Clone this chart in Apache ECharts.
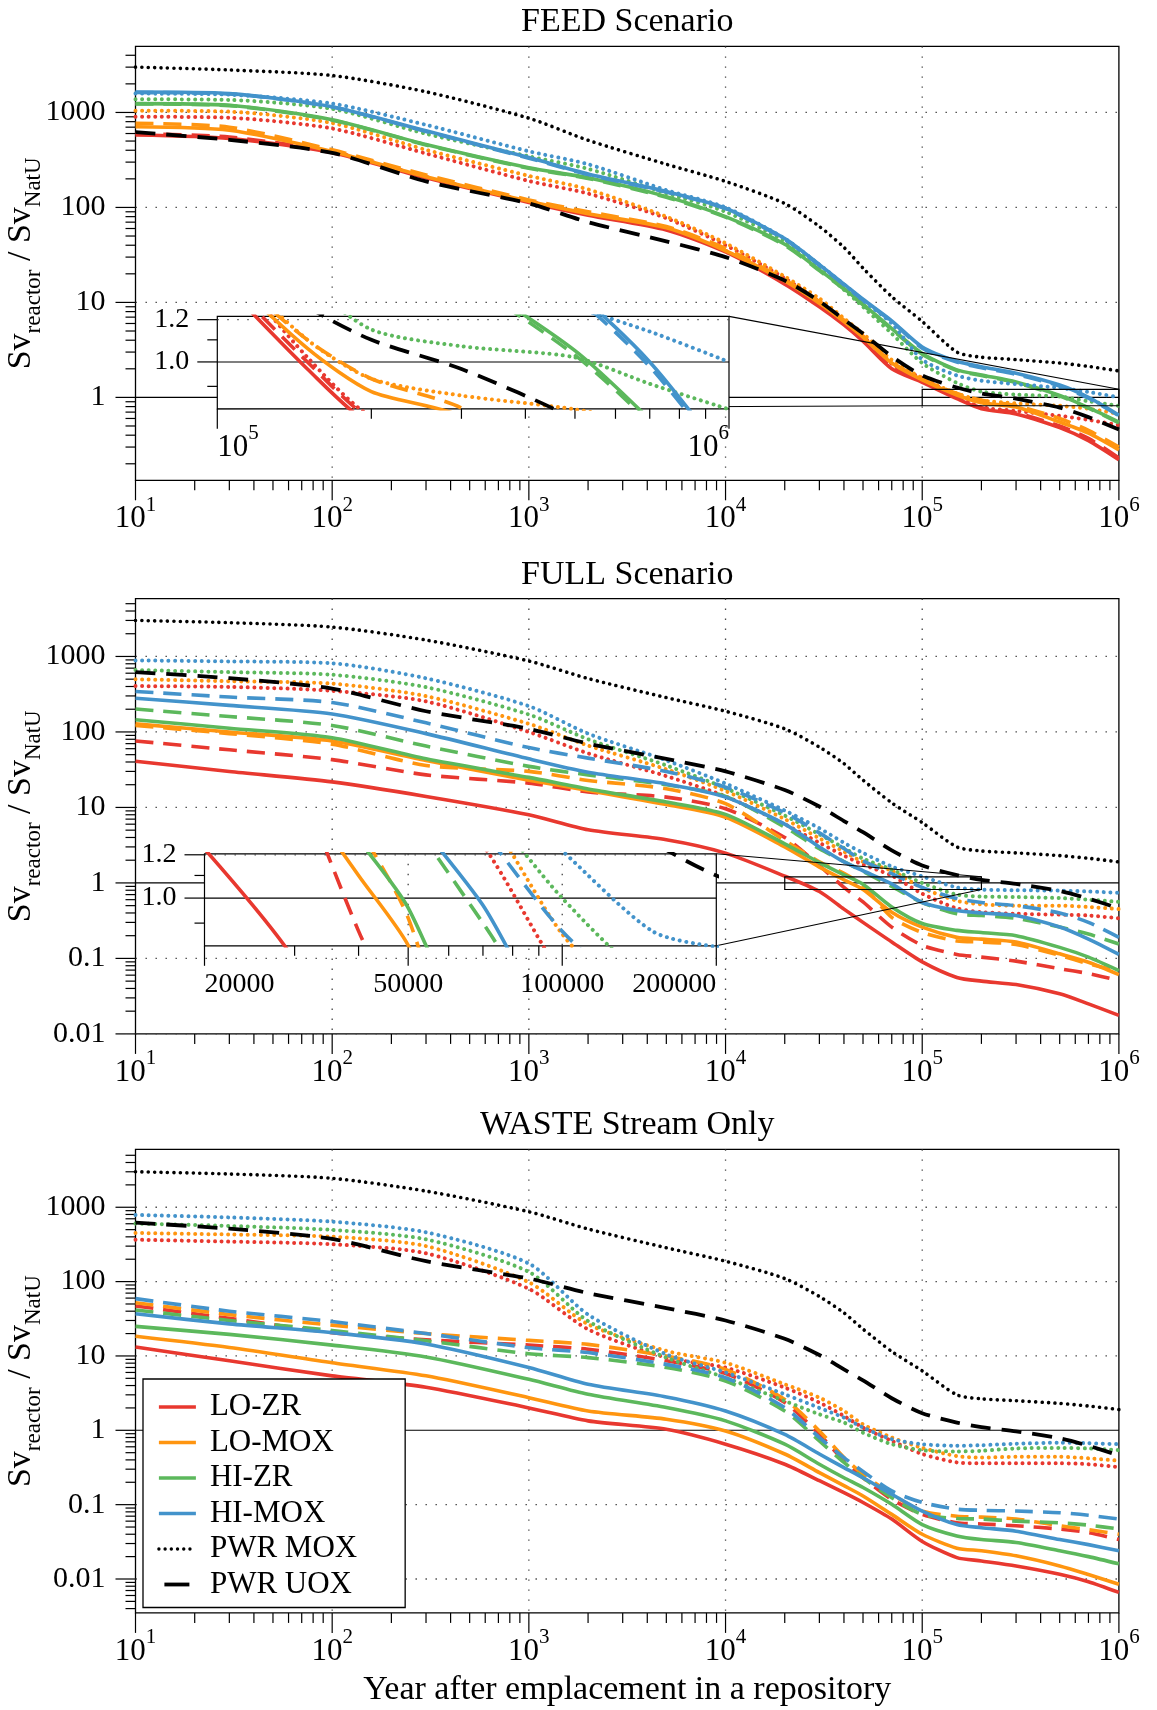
<!DOCTYPE html>
<html>
<head>
<meta charset="utf-8">
<title>Radiotoxicity relative to natural uranium</title>
<script src="https://cdn.jsdelivr.net/npm/echarts@6.0.0/dist/echarts.min.js"></script>
<style>
html, body { margin: 0; padding: 0; background: #ffffff; }
#chart { width: 1157px; height: 1710px; }
</style>
</head>
<body>
<div id="chart"></div>
<script>
// ---------------- data: years after emplacement ----------------
const years = [10, 30, 100, 300, 1000, 2000, 5000, 1e4, 2e4, 3e4, 4e4, 5e4, 7e4, 1e5, 1.5e5, 2e5, 3e5, 5e5, 7e5, 1e6];

// reference light-water reactors (same in every scenario)
const pwrMox = [3000, 2800, 2450, 1650, 870, 510, 285, 188, 110, 63, 38, 23, 11.5, 6.3, 3.0, 2.65, 2.5, 2.3, 2.12, 1.9];
const pwrUox = [620, 515, 375, 188, 110, 70, 44, 30, 17, 10.3, 6.6, 4.7, 2.7, 1.7, 1.27, 1.1, 0.97, 0.78, 0.62, 0.46];

// FEED scenario
const feedLoZr        = [580, 532, 377, 205, 113, 83, 58, 34, 15.6, 9.0, 5.8, 3.9, 2.0, 1.44, 0.97, 0.76, 0.67, 0.48, 0.35, 0.22];
const feedLoZrDashed  = [600, 550, 386, 210, 116, 85, 59, 35, 16.1, 9.3, 6.0, 4.0, 2.08, 1.48, 1.0, 0.78, 0.69, 0.5, 0.37, 0.23];
const feedLoZrDotted  = [902, 880, 678, 370, 190, 140, 77, 40, 18, 10.2, 6.3, 4.4, 2.25, 1.6, 1.02, 0.79, 0.72, 0.64, 0.58, 0.51];
const feedLoMox       = [708, 650, 389, 211, 116, 86, 61, 35, 16.8, 9.8, 6.3, 4.3, 2.3, 1.53, 1.06, 0.88, 0.79, 0.55, 0.42, 0.28];
const feedLoMoxDashed = [771, 700, 404, 220, 120, 90, 63, 37, 17.3, 10.2, 6.5, 4.4, 2.35, 1.55, 1.1, 0.93, 0.82, 0.6, 0.45, 0.3];
const feedLoMoxDotted = [1045, 1020, 773, 404, 215, 155, 80, 42, 18.7, 11, 6.8, 4.7, 2.48, 1.6, 1.1, 0.93, 0.865, 0.815, 0.76, 0.67];
const feedHiZr        = [1240, 1190, 840, 460, 262, 205, 130, 80, 41, 22, 14, 9.6, 5.3, 2.9, 1.95, 1.72, 1.45, 1.05, 0.78, 0.55];
const feedHiZrDashed  = [1230, 1180, 830, 455, 258, 202, 128, 79, 40, 21.6, 13.8, 9.4, 5.2, 2.85, 1.92, 1.7, 1.43, 1.03, 0.77, 0.54];
const feedHiZrDotted  = [1377, 1355, 1090, 596, 345, 255, 141, 90, 44, 23, 13.6, 9.0, 4.7, 2.3, 1.42, 1.15, 1.07, 1.02, 0.91, 0.815];
const feedHiMox       = [1640, 1580, 1150, 640, 335, 225, 147, 98, 47, 25, 15.6, 10.8, 6.4, 3.4, 2.4, 2.1, 1.8, 1.35, 1.0, 0.65];
const feedHiMoxDashed = [1620, 1570, 1140, 630, 330, 222, 145, 97, 46, 24.5, 15.3, 10.6, 6.3, 3.3, 2.35, 2.05, 1.75, 1.32, 0.98, 0.64];
const feedHiMoxDotted = [1580, 1540, 1240, 740, 390, 285, 152, 100, 47, 25, 15.5, 10.5, 6.0, 2.5, 1.7, 1.5, 1.38, 1.26, 1.14, 1.0];

// FULL scenario
const fullLoZr        = [41, 30, 21.8, 14, 8.0, 5.06, 3.73, 2.48, 1.23, 0.77, 0.45, 0.30, 0.165, 0.09, 0.056, 0.050, 0.045, 0.034, 0.025, 0.0176];
const fullLoZrDashed  = [76, 58, 43, 27, 21, 16, 13.7, 9.6, 4.0, 1.7, 0.87, 0.56, 0.26, 0.149, 0.113, 0.104, 0.092, 0.073, 0.063, 0.051];
const fullLoZrDotted  = [405, 395, 351, 254, 100, 52, 26, 14, 6.0, 3.4, 2.3, 1.75, 1.25, 0.72, 0.46, 0.41, 0.39, 0.38, 0.37, 0.34];
const fullLoMox       = [128, 100, 76, 42, 23, 16.8, 10.9, 7.4, 3.0, 1.62, 1.1, 0.82, 0.41, 0.26, 0.19, 0.18, 0.165, 0.115, 0.089, 0.061];
const fullLoMoxDashed = [122, 95, 69, 36, 30, 22.8, 17.7, 11.2, 3.66, 1.9, 1.34, 0.92, 0.35, 0.22, 0.17, 0.165, 0.153, 0.11, 0.085, 0.068];
const fullLoMoxDotted = [498, 470, 437, 298, 128, 66, 32, 16.5, 7.0, 3.9, 2.6, 1.9, 1.45, 0.86, 0.58, 0.52, 0.5, 0.5, 0.48, 0.45];
const fullHiZr        = [145, 112, 84, 44, 25, 17.6, 11.8, 8.1, 3.3, 1.86, 1.28, 0.96, 0.48, 0.29, 0.235, 0.22, 0.2, 0.14, 0.104, 0.069];
const fullHiZrDashed  = [201, 160, 122, 65, 35, 27, 20, 14, 5.5, 2.83, 1.92, 1.42, 0.9, 0.55, 0.39, 0.37, 0.34, 0.26, 0.21, 0.155];
const fullHiZrDotted  = [661, 620, 573, 392, 170, 80, 36, 18, 7.8, 4.4, 2.9, 2.1, 1.5, 1.0, 0.7, 0.66, 0.65, 0.63, 0.6, 0.56];
const fullHiMox       = [279, 225, 173, 95, 44, 29.3, 20.5, 13.7, 6.0, 3.0, 1.9, 1.45, 0.97, 0.55, 0.43, 0.40, 0.37, 0.26, 0.18, 0.113];
const fullHiMoxDashed = [344, 290, 245, 132, 62, 45, 30, 18.5, 8.5, 4.6, 2.85, 1.96, 1.33, 0.87, 0.62, 0.55, 0.5, 0.4, 0.3, 0.19];
const fullHiMoxDotted = [887, 860, 812, 514, 220, 95, 42, 20.7, 9.1, 5.3, 3.4, 2.5, 1.65, 1.22, 0.87, 0.815, 0.8, 0.79, 0.77, 0.74];

// WASTE stream only
const wasteLoZr        = [13.2, 8.6, 5.4, 3.8, 2.0, 1.34, 1.03, 0.65, 0.35, 0.21, 0.145, 0.107, 0.064, 0.032, 0.0194, 0.0175, 0.015, 0.0116, 0.0092, 0.0066];
const wasteLoZrDashed  = [47, 32, 20.6, 16.5, 14, 12.3, 8.6, 5.8, 2.36, 0.88, 0.39, 0.23, 0.118, 0.074, 0.057, 0.055, 0.052, 0.047, 0.042, 0.034];
const wasteLoZrDotted  = [366, 345, 318, 240, 80, 22.8, 9.5, 6.96, 3.75, 2.36, 1.56, 1.09, 0.72, 0.48, 0.37, 0.36, 0.36, 0.36, 0.35, 0.32];
const wasteLoMox       = [18.4, 13, 8.1, 5.4, 2.75, 1.82, 1.41, 0.98, 0.48, 0.27, 0.18, 0.131, 0.074, 0.040, 0.026, 0.024, 0.0205, 0.015, 0.0115, 0.0085];
const wasteLoMoxDashed = [52, 36, 26, 20, 16.2, 14.3, 10, 6.6, 2.6, 0.98, 0.43, 0.256, 0.138, 0.082, 0.07, 0.068, 0.064, 0.052, 0.046, 0.04];
const wasteLoMoxDotted = [451, 430, 402, 300, 98, 26.7, 11.7, 8.1, 4.16, 2.75, 1.82, 1.2, 0.8, 0.58, 0.45, 0.43, 0.44, 0.44, 0.42, 0.39];
const wasteHiZr        = [25, 19.5, 14, 9.7, 4.85, 3.05, 2.02, 1.34, 0.65, 0.35, 0.23, 0.17, 0.101, 0.054, 0.038, 0.034, 0.031, 0.024, 0.02, 0.016];
const wasteHiZrDashed  = [41.5, 30, 22, 16, 10.7, 9.5, 7.0, 4.6, 1.82, 0.72, 0.37, 0.23, 0.124, 0.074, 0.065, 0.064, 0.06, 0.057, 0.053, 0.047];
const wasteHiZrDotted  = [604, 560, 496, 370, 135, 29.5, 9.5, 5.1, 2.48, 1.64, 1.27, 0.93, 0.65, 0.54, 0.52, 0.53, 0.57, 0.58, 0.57, 0.54];
const wasteHiMox       = [36.9, 27, 20.6, 14.5, 7.0, 4.16, 2.81, 1.82, 0.88, 0.48, 0.315, 0.23, 0.138, 0.082, 0.054, 0.049, 0.044, 0.034, 0.029, 0.024];
const wasteHiMoxDashed = [59, 40, 29, 20, 12.9, 11.1, 7.7, 5.1, 2.02, 0.80, 0.43, 0.28, 0.153, 0.107, 0.087, 0.084, 0.082, 0.078, 0.072, 0.064];
const wasteHiMoxDotted = [789, 730, 640, 460, 175, 36, 10.5, 6.0, 3.05, 2.0, 1.48, 1.09, 0.76, 0.65, 0.62, 0.63, 0.66, 0.68, 0.67, 0.65];

// ---------------- ticks ----------------
const xDecades = [10, 100, 1000, 1e4, 1e5, 1e6];
const xExponents = ['1', '2', '3', '4', '5', '6'];
const minorMultipliers = [2, 3, 4, 5, 6, 7, 8, 9];
const insetYTicks = [1.0, 1.2];
const insetYTickLabels = ['1.0', '1.2'];
const insetYMinor = [0.9, 1.1];
const feedInsetXTicks = [1e5, 1e6];
const feedInsetXLabels = [['10', '5'], ['10', '6']];
const fullInsetXTicks = [2e4, 5e4, 1e5, 2e5];
const fullInsetXLabels = ['20000', '50000', '100000', '200000'];
const fullInsetXMinor = [3e4, 4e4, 6e4, 7e4, 8e4, 9e4];

// ---------------- layout & style ----------------
const FONT = "'Liberation Serif', 'DejaVu Serif', serif";
const XR = [10, 1e6];
const mainGrids = [
  { title: 'FEED Scenario', left: 135.5, top: 46.4, width: 983.4, height: 433.9, y: [0.134, 4960], yMajor: [1, 10, 100, 1000] },
  { title: 'FULL Scenario', left: 135.5, top: 598.6, width: 983.4, height: 435.3, y: [0.01, 5840], yMajor: [0.01, 0.1, 1, 10, 100, 1000] },
  { title: 'WASTE Stream Only', left: 135.5, top: 1149.4, width: 983.4, height: 463.5, y: [0.0035, 6000], yMajor: [0.01, 0.1, 1, 10, 100, 1000] }
];
const insetGrids = [
  { left: 217.3, top: 316.4, width: 511.7, height: 92.4, x: [1e5, 1e6], y: [0.817, 1.217], parent: 0,
    links: [['tr', 'tr'], ['bl', 'bl']] },
  { left: 204.5, top: 853.8, width: 511.8, height: 92, x: [2e4, 2e5], y: [0.818, 1.205], parent: 1,
    links: [['tr', 'tr'], ['br', 'br']] }
];

const reactors = [
  { name: 'LO-ZR', color: '#e8382f', sets: [[feedLoZr, feedLoZrDashed, feedLoZrDotted], [fullLoZr, fullLoZrDashed, fullLoZrDotted], [wasteLoZr, wasteLoZrDashed, wasteLoZrDotted]] },
  { name: 'LO-MOX', color: '#ff9510', sets: [[feedLoMox, feedLoMoxDashed, feedLoMoxDotted], [fullLoMox, fullLoMoxDashed, fullLoMoxDotted], [wasteLoMox, wasteLoMoxDashed, wasteLoMoxDotted]] },
  { name: 'HI-ZR', color: '#5cb85c', sets: [[feedHiZr, feedHiZrDashed, feedHiZrDotted], [fullHiZr, fullHiZrDashed, fullHiZrDotted], [wasteHiZr, wasteHiZrDashed, wasteHiZrDotted]] },
  { name: 'HI-MOX', color: '#4393cb', sets: [[feedHiMox, feedHiMoxDashed, feedHiMoxDotted], [fullHiMox, fullHiMoxDashed, fullHiMoxDotted], [wasteHiMox, wasteHiMoxDashed, wasteHiMoxDotted]] }
];
const strokeKinds = [
  { suffix: '', type: 'solid', width: 3.6, cap: 'butt' },
  { suffix: ' (dashed)', type: [18, 10], width: 3.6, cap: 'butt' },
  { suffix: ' (dotted)', type: [0.01, 6.6], width: 4, cap: 'round' }
];
const pwrMoxStroke = { type: [0.01, 6.4], width: 3.6, cap: 'round' };
const pwrUoxStroke = { type: [20, 11], width: 3.8, cap: 'butt' };

const TICK = { stroke: '#000', lineWidth: 1.2 };
const GRIDLINE = { stroke: '#444', lineWidth: 1.3, lineDash: [1.4, 8.6] };
const UNITY = { stroke: '#000', lineWidth: 1.1 };

// ---------------- helpers ----------------
function toPoints(values) { return years.map((x, i) => [x, values[i]]); }

function lineSeries(name, values, color, stroke, axisIndex, z) {
  return {
    type: 'line', name, data: toPoints(values), xAxisIndex: axisIndex, yAxisIndex: axisIndex,
    symbol: 'none', smooth: 0.25, z, silent: true, animation: false, clip: true,
    lineStyle: { color, width: stroke.width, type: stroke.type, cap: stroke.cap, join: 'round' },
    itemStyle: { color }, emphasis: { disabled: true }
  };
}

function seg(x1, y1, x2, y2, style) { return { type: 'line', shape: { x1, y1, x2, y2 }, style }; }

function textEl(x, y, text, size, align, va, rich) {
  const style = { text, font: size + 'px ' + FONT, fill: '#000', align, verticalAlign: va, textAlign: align, textVerticalAlign: va };
  if (rich) style.rich = rich;
  return { type: 'text', x, y, style };
}

const expRich = {
  b: { fontFamily: FONT, fontSize: 31, lineHeight: 31, verticalAlign: 'top', padding: [9, 0, 0, 0], fill: '#000', color: '#000' },
  s: { fontFamily: FONT, fontSize: 21, lineHeight: 21, verticalAlign: 'top', fill: '#000', color: '#000' }
};

// draws one tick (plus optional grid line and label) on the grid owning the axes
function renderDeco(item, cs, api) {
  const p = api.coord(item.at);
  const bottom = cs.y + cs.height, left = cs.x;
  const kids = [];
  if (item.kind === 'x') {
    if (item.grid) kids.push(seg(p[0], cs.y, p[0], bottom, GRIDLINE));
    kids.push(seg(p[0], bottom, p[0], bottom + item.len, TICK));
    if (item.exp) {
      kids.push(textEl(p[0], bottom + 14.5, '{b|' + item.exp[0] + '}{s|' + item.exp[1] + '}', 31, item.align || 'center', 'top', expRich));
    } else if (item.label) {
      kids.push(textEl(p[0], bottom + 39, item.label, item.size || 28, item.align || 'center', 'middle'));
    }
  } else if (item.kind === 'y') {
    if (item.grid) kids.push(seg(left, p[1], left + cs.width, p[1], GRIDLINE));
    kids.push(seg(left - item.len, p[1], left, p[1], TICK));
    if (item.label) kids.push(textEl(left - item.gap, p[1], item.label, item.size || 30, 'right', 'middle'));
  } else if (item.kind === 'h') {
    kids.push(seg(left, p[1], left + cs.width, p[1], UNITY));
  }
  return { type: 'group', children: kids };
}

function decoSeries(axisIndex, items, z) {
  return {
    type: 'custom', coordinateSystem: 'cartesian2d', xAxisIndex: axisIndex, yAxisIndex: axisIndex,
    z, silent: true, animation: false, clip: false,
    data: items.map(it => it.at),
    renderItem: (params, api) => renderDeco(items[params.dataIndex], params.coordSys, api)
  };
}

function mainDecoItems(g) {
  const items = [];
  const y0 = g.y[0], x0 = XR[0];
  xDecades.forEach((d, k) => items.push({ kind: 'x', at: [d, y0], len: 20, grid: d > XR[0] && d < XR[1], exp: ['10', xExponents[k]] }));
  xDecades.slice(0, -1).forEach(d => minorMultipliers.forEach(m => items.push({ kind: 'x', at: [m * d, y0], len: 10 })));
  g.yMajor.forEach(v => items.push({ kind: 'y', at: [x0, v], len: 20, gap: 30, grid: v !== 1, label: String(v) }));
  for (let e = Math.floor(Math.log10(g.y[0])); e < Math.ceil(Math.log10(g.y[1])); e++) {
    minorMultipliers.forEach(m => {
      const v = +(m * Math.pow(10, e)).toPrecision(6);
      if (v > g.y[0] && v < g.y[1]) items.push({ kind: 'y', at: [x0, v], len: 10 });
    });
  }
  items.push({ kind: 'h', at: [x0, 1] });
  return items;
}

function insetDecoItems(ins, idx) {
  const items = [];
  const y0 = ins.y[0], x0 = ins.x[0];
  if (idx === 0) {
    feedInsetXTicks.forEach((v, k) => items.push({ kind: 'x', at: [v, y0], len: 20, exp: feedInsetXLabels[k], align: k === 0 ? 'left' : 'right' }));
    minorMultipliers.forEach(m => items.push({ kind: 'x', at: [m * 1e5, y0], len: 10 }));
  } else {
    fullInsetXTicks.forEach((v, k) => items.push({
      kind: 'x', at: [v, y0], len: 20, label: fullInsetXLabels[k], size: 28,
      grid: v > ins.x[0] && v < ins.x[1],
      align: k === 0 ? 'left' : (k === fullInsetXTicks.length - 1 ? 'right' : 'center')
    }));
    fullInsetXMinor.forEach(v => items.push({ kind: 'x', at: [v, y0], len: 10 }));
  }
  insetYTicks.forEach((v, k) => items.push({ kind: 'y', at: [x0, v], len: 20, gap: 28, size: 28, grid: v !== 1, label: insetYTickLabels[k] }));
  insetYMinor.forEach(v => items.push({ kind: 'y', at: [x0, v], len: 10 }));
  items.push({ kind: 'h', at: [x0, 1] });
  return items;
}

// outline of the zoomed region on the parent axes, with the two connector lines
function zoomMarkSeries(ins) {
  return {
    type: 'custom', coordinateSystem: 'cartesian2d', xAxisIndex: ins.parent, yAxisIndex: ins.parent,
    z: 4, silent: true, animation: false, clip: false,
    data: [[ins.x[0], ins.y[0]]],
    renderItem: (params, api) => {
      const lo = api.coord([ins.x[0], ins.y[0]]);
      const hi = api.coord([ins.x[1], ins.y[1]]);
      const region = { bl: [lo[0], lo[1]], br: [hi[0], lo[1]], tl: [lo[0], hi[1]], tr: [hi[0], hi[1]] };
      const L = ins.left, T = ins.top, R = ins.left + ins.width, B = ins.top + ins.height;
      const box = { bl: [L, B], br: [R, B], tl: [L, T], tr: [R, T] };
      const style = { stroke: '#000', lineWidth: 1.1 };
      const kids = [{ type: 'rect', shape: { x: lo[0], y: hi[1], width: hi[0] - lo[0], height: lo[1] - hi[1] }, style: { fill: null, stroke: '#000', lineWidth: 1.2 } }];
      ins.links.forEach(([a, b]) => kids.push(seg(box[a][0], box[a][1], region[b][0], region[b][1], style)));
      return { type: 'group', children: kids };
    }
  };
}

// ---------------- assemble ----------------
const grid = [], xAxis = [], yAxis = [], series = [];

mainGrids.forEach((g, i) => {
  grid.push({ left: g.left, top: g.top, width: g.width, height: g.height, show: true, backgroundColor: 'transparent', borderColor: '#000', borderWidth: 1.3, z: 0 });
  xAxis.push({ type: 'log', logBase: 10, gridIndex: i, min: XR[0], max: XR[1], show: false });
  yAxis.push({ type: 'log', logBase: 10, gridIndex: i, min: g.y[0], max: g.y[1], show: false });
});
insetGrids.forEach((ins, k) => {
  const i = mainGrids.length + k;
  grid.push({ left: ins.left, top: ins.top, width: ins.width, height: ins.height, show: true, backgroundColor: '#fff', borderColor: '#000', borderWidth: 1.2, z: 10 });
  xAxis.push({ type: 'log', logBase: 10, gridIndex: i, min: ins.x[0], max: ins.x[1], show: false });
  yAxis.push({ type: 'log', logBase: 10, gridIndex: i, min: ins.y[0], max: ins.y[1], show: false });
});

function addPanelLines(panelIndex, axisIndex, zBase) {
  reactors.forEach(r => {
    strokeKinds.forEach((s, si) => series.push(lineSeries(r.name + s.suffix, r.sets[panelIndex][si], r.color, s, axisIndex, zBase)));
  });
  series.push(lineSeries('PWR MOX', pwrMox, '#000', pwrMoxStroke, axisIndex, zBase + 1));
  series.push(lineSeries('PWR UOX', pwrUox, '#000', pwrUoxStroke, axisIndex, zBase + 1));
}

mainGrids.forEach((g, i) => {
  series.push(decoSeries(i, mainDecoItems(g), 1));
  addPanelLines(i, i, 2);
});
insetGrids.forEach((ins, k) => {
  const i = mainGrids.length + k;
  series.push(zoomMarkSeries(ins));
  series.push(decoSeries(i, insetDecoItems(ins, k), 11));
  addPanelLines(ins.parent, i, 12);
});

const yNameRich = {
  m: { fontFamily: FONT, fontSize: 34, lineHeight: 34, verticalAlign: 'bottom', padding: [0, 0, 7, 0], fill: '#000', color: '#000' },
  s: { fontFamily: FONT, fontSize: 23, lineHeight: 23, verticalAlign: 'bottom', fill: '#000', color: '#000' }
};
const graphics = [];
mainGrids.forEach(g => {
  graphics.push({ type: 'text', x: g.left + g.width / 2, y: g.top - 24, silent: true,
    style: { text: g.title, font: '34px ' + FONT, fill: '#000', align: 'center', verticalAlign: 'middle', textAlign: 'center', textVerticalAlign: 'middle' } });
  graphics.push({ type: 'text', x: 28.5, y: g.top + g.height / 2, rotation: Math.PI / 2, silent: true,
    style: { text: '{m|Sv}{s|reactor}{m| / Sv}{s|NatU}', rich: yNameRich, fill: '#000', align: 'center', verticalAlign: 'middle', textAlign: 'center', textVerticalAlign: 'middle' } });
});
graphics.push({ type: 'text', x: 627.2, y: 1690, silent: true,
  style: { text: 'Year after emplacement in a repository', font: '34px ' + FONT, fill: '#000', align: 'center', verticalAlign: 'middle', textAlign: 'center', textVerticalAlign: 'middle' } });

const legendNames = ['LO-ZR', 'LO-MOX', 'HI-ZR', 'HI-MOX', 'PWR MOX', 'PWR UOX'];
const legendData = legendNames.map(name => {
  if (name === 'PWR MOX') return { name, lineStyle: { width: 3.4, type: [0.01, 6.2], cap: 'round' } };
  if (name === 'PWR UOX') return { name, lineStyle: { width: 3.8, type: [25, 12], dashOffset: 31.5, cap: 'butt' } };
  return { name, lineStyle: { width: 3.4, type: 'solid' } };
});

const option = {
  animation: false,
  backgroundColor: '#fff',
  grid, xAxis, yAxis, series,
  graphic: { elements: graphics },
  legend: {
    data: legendData,
    orient: 'vertical', left: 143, top: 1379, padding: [12, 48, 7, 14],
    itemGap: 3.5, itemWidth: 37, itemHeight: 14,
    backgroundColor: '#fff', borderColor: '#000', borderWidth: 1.3, borderRadius: 0,
    textStyle: { fontFamily: FONT, fontSize: 31, color: '#000', lineHeight: 32, padding: [0, 0, 0, 9] },
    itemStyle: { opacity: 0 },
    selectedMode: false, z: 20
  }
};

const chart = echarts.init(document.getElementById('chart'), null, { renderer: 'canvas', width: 1157, height: 1710 });
chart.setOption(option);
</script>
</body>
</html>
